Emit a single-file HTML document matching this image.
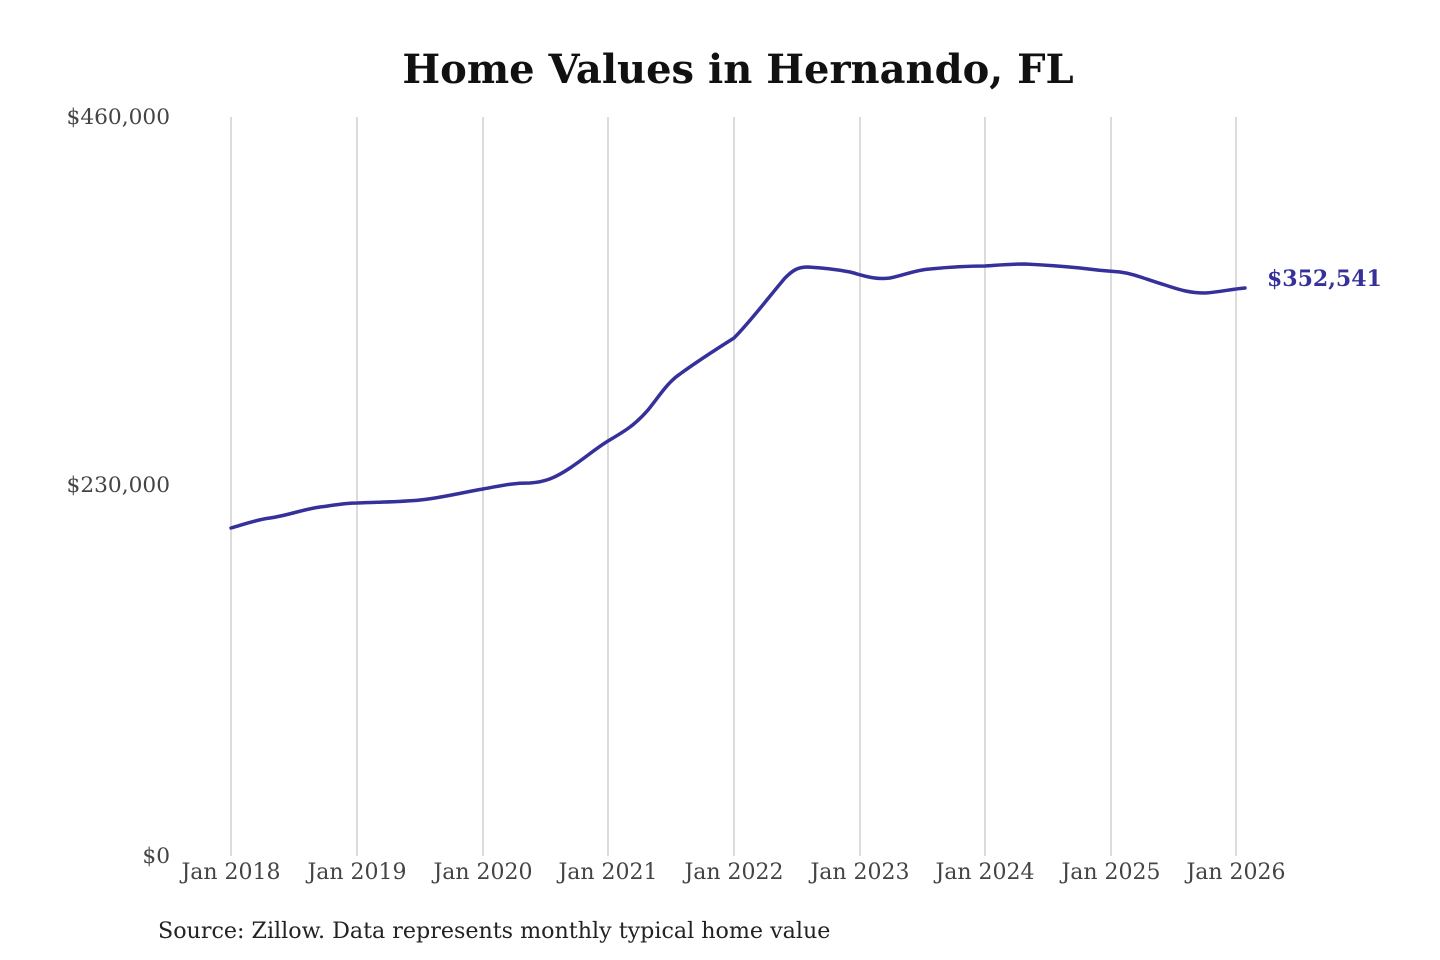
<!DOCTYPE html>
<html><head><meta charset="utf-8"><style>
html,body{margin:0;padding:0;background:#fff;width:1440px;height:960px;overflow:hidden}
svg{display:block}
text{font-family:"DejaVu Serif","Liberation Serif",serif}
</style></head><body>
<svg width="1440" height="960" viewBox="0 0 1440 960">
<text x="738" y="83" text-anchor="middle" font-size="40" font-weight="bold" fill="#111">Home Values in Hernando, FL</text>
<g stroke="#c8c8c8" stroke-width="1.3">
<line x1="231" y1="117" x2="231" y2="856"/><line x1="357" y1="117" x2="357" y2="856"/>
<line x1="483" y1="117" x2="483" y2="856"/><line x1="608" y1="117" x2="608" y2="856"/>
<line x1="734" y1="117" x2="734" y2="856"/><line x1="860" y1="117" x2="860" y2="856"/>
<line x1="985" y1="117" x2="985" y2="856"/><line x1="1111" y1="117" x2="1111" y2="856"/>
<line x1="1236" y1="117" x2="1236" y2="856"/>
</g>
<g font-size="21.7" fill="#444" text-anchor="end">
<text x="170" y="124">$460,000</text>
<text x="170" y="492">$230,000</text>
<text x="170" y="863">$0</text>
</g>
<g font-size="22" fill="#444" text-anchor="middle">
<text x="231" y="879">Jan 2018</text><text x="357" y="879">Jan 2019</text>
<text x="483" y="879">Jan 2020</text><text x="608" y="879">Jan 2021</text>
<text x="734" y="879">Jan 2022</text><text x="860" y="879">Jan 2023</text>
<text x="985" y="879">Jan 2024</text><text x="1111" y="879">Jan 2025</text>
<text x="1236" y="879">Jan 2026</text>
</g>
<path d="M231,528 C245,524 255,520 270,518 C290,515 300,510 320,507 C335,505 345,503 357,503 C380,502 400,502 420,500 C440,498 460,493 483,489 C500,486 510,483 530,483 C545,482 555,478 570,468 C585,458 595,449 608,441 C625,431 635,425 648,410 C660,395 668,382 680,374 C695,363 715,350 734,338 C750,322 768,298 785,278 C793,270 798,267 808,267 C825,268 840,270 850,272 C865,276 875,280 890,278 C905,275 915,270 930,269 C950,267 970,266 985,266 C1000,265 1010,264 1025,264 C1045,265 1060,266 1080,268 C1095,270 1105,271 1120,272 C1135,274 1145,279 1165,285 C1180,290 1190,293 1205,293 C1220,292 1232,289 1245,288" fill="none" stroke="#35309a" stroke-width="3.5" stroke-linecap="round"/>
<text x="1267" y="286" font-size="22" font-weight="bold" fill="#35309a">$352,541</text>
<text x="158" y="938" font-size="22.2" fill="#222">Source: Zillow. Data represents monthly typical home value</text>
</svg>
</body></html>
